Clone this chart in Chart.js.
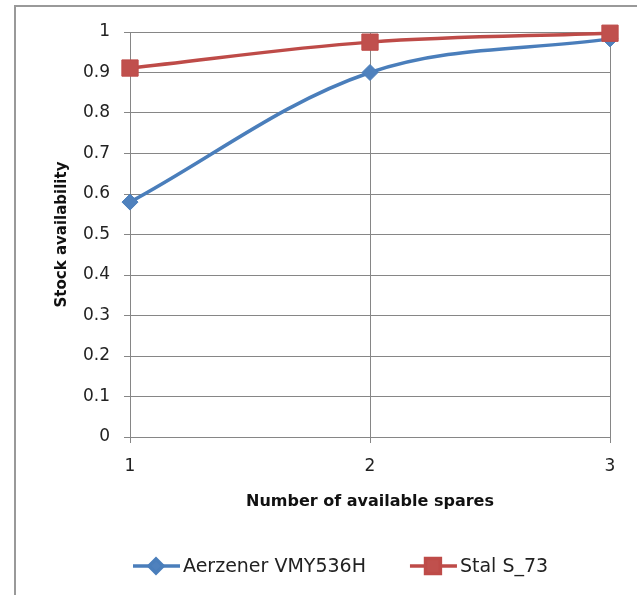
<!DOCTYPE html>
<html>
<head>
<meta charset="utf-8">
<script src="https://cdn.jsdelivr.net/npm/chart.js@4.4.0/dist/chart.umd.min.js"></script>
<style>
  html, body { margin: 0; padding: 0; background: #fff; }
</style>
</head>
<body>
<canvas id="myChart" width="637" height="595"></canvas>
<script>
const spares = [1, 2, 3];
const aerzener = [0.58, 0.90, 0.983];
const stal = [0.911, 0.975, 0.997];
const seriesNames = ['Aerzener VMY536H', 'Stal S_73'];

const FONT = '"DejaVu Sans"';
const gridColor = '#868686';

// gray frame of the original chart box (only top + left edges are visible)
const framePlugin = {
  id: 'frame',
  beforeDraw(chart) {
    const c = chart.ctx;
    c.save();
    c.strokeStyle = '#999';
    c.lineWidth = 2;
    c.beginPath();
    c.moveTo(15, chart.height);
    c.lineTo(15, 6);
    c.lineTo(chart.width, 6);
    c.stroke();
    c.restore();
  }
};

// excel style legend: line with marker, then label
const legendPlugin = {
  id: 'excelLegend',
  afterDraw(chart) {
    const c = chart.ctx;
    let x = 133;
    const y = 566;
    c.save();
    c.font = '19px ' + FONT;
    c.textBaseline = 'middle';
    chart.data.datasets.forEach(ds => {
      c.strokeStyle = ds.borderColor;
      c.lineWidth = ds.borderWidth;
      c.beginPath();
      c.moveTo(x, y);
      c.lineTo(x + 47, y);
      c.stroke();
      c.fillStyle = ds.pointBackgroundColor;
      c.strokeStyle = ds.pointBorderColor;
      Chart.helpers.drawPoint(c, { pointStyle: ds.pointStyle, radius: ds.pointRadius - 1, borderWidth: 1 }, x + 23, y);
      c.fillStyle = '#222';
      c.fillText(ds.label, x + 50, y + 1);
      x += 50 + c.measureText(ds.label).width + 44;
    });
    c.restore();
  }
};

const ctx = document.getElementById('myChart').getContext('2d');

new Chart(ctx, {
  type: 'line',
  data: {
    labels: spares,
    datasets: [
      {
        label: seriesNames[0],
        data: spares.map((s, i) => ({ x: s, y: aerzener[i] })),
        borderColor: '#4A7EBB',
        borderWidth: 3.5,
        pointStyle: 'rectRot',
        pointRadius: 8,
        pointBackgroundColor: '#4F81BD',
        pointBorderColor: '#4A7EBB',
        pointBorderWidth: 1,
        tension: 0.35,
        clip: false,
        order: 1
      },
      {
        label: seriesNames[1],
        data: spares.map((s, i) => ({ x: s, y: stal[i] })),
        borderColor: '#BE4B48',
        borderWidth: 3.5,
        pointStyle: 'rect',
        pointRadius: 11.5,
        pointBackgroundColor: '#C0504D',
        pointBorderColor: '#BE4B48',
        pointBorderWidth: 1,
        tension: 0.35,
        clip: false,
        order: 0
      }
    ]
  },
  options: {
    responsive: false,
    animation: false,
    events: [],
    layout: {
      padding: { top: 32, right: 27, bottom: 58, left: 0 }
    },
    plugins: {
      legend: { display: false },
      tooltip: { enabled: false }
    },
    scales: {
      x: {
        type: 'linear',
        min: 1,
        max: 3,
        ticks: {
          stepSize: 1,
          padding: 13,
          color: '#222',
          font: { family: FONT, size: 17 }
        },
        grid: {
          color: gridColor,
          tickLength: 6
        },
        border: { color: gridColor },
        title: {
          display: true,
          text: 'Number of available spares',
          color: '#111',
          font: { family: FONT, size: 16, weight: 'bold' },
          padding: { top: 0, bottom: 26 }
        },
        afterFit(scale) { scale.height = 100; }
      },
      y: {
        min: 0,
        max: 1,
        ticks: {
          stepSize: 0.1,
          padding: 14,
          color: '#222',
          font: { family: FONT, size: 17 },
          callback: v => String(Math.round(v * 10) / 10)
        },
        grid: {
          color: gridColor,
          tickLength: 6
        },
        border: { color: gridColor },
        title: {
          display: true,
          text: 'Stock availability',
          color: '#111',
          font: { family: FONT, size: 15, weight: 'bold' },
          padding: { top: 53, bottom: 0 }
        },
        afterFit(scale) { scale.width = 130; }
      }
    }
  },
  plugins: [framePlugin, legendPlugin]
});
</script>
</body>
</html>
